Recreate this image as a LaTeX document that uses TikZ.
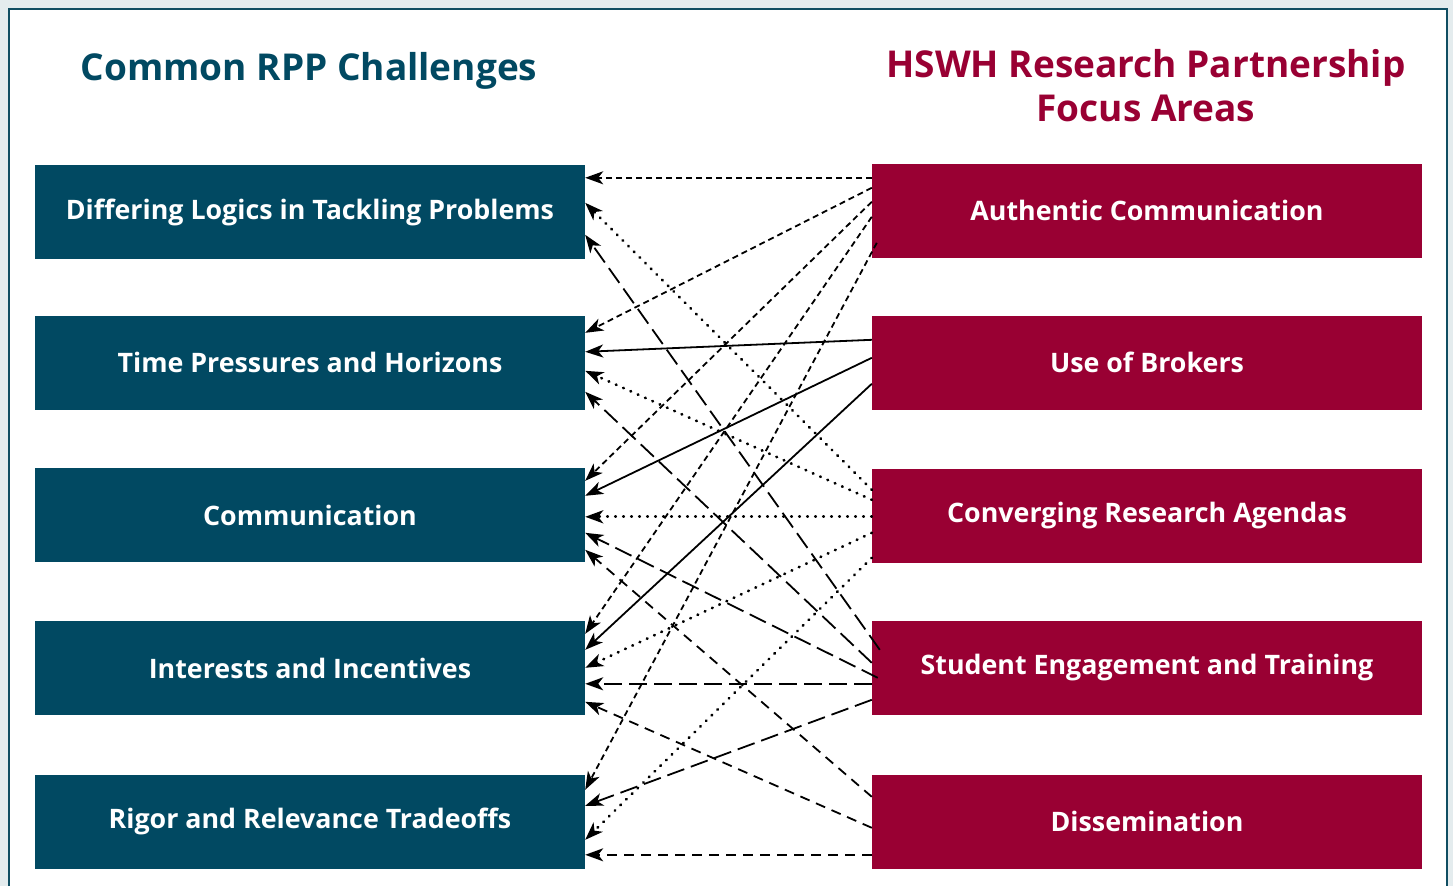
\documentclass[tikz,border=0pt]{standalone}
\usepackage{fontspec}
\setmainfont{Open Sans}
\usetikzlibrary{arrows.meta}
\definecolor{rppteal}{RGB}{1,73,98}
\definecolor{hswhred}{RGB}{153,0,51}
\definecolor{framebg}{RGB}{228,236,238}
\definecolor{frameline}{RGB}{16,78,98}

\begin{document}
\begin{tikzpicture}[x=1pt,y=-1pt,
	challenge/.style={fill=rppteal,text=white,font=\bfseries\fontsize{26.8}{30}\selectfont,minimum width=550pt,minimum height=94pt,inner sep=0pt},
	focus/.style={challenge,fill=hswhred},
	heading/.style={font=\bfseries\fontsize{37}{44}\selectfont,align=center},
	link/.style={line width=1.8pt,-{Stealth[length=18pt,width=13pt,inset=5pt]}},
	shortdash/.style={link,dash pattern=on 6pt off 4pt},
	middash/.style={link,dash pattern=on 10pt off 7pt},
	longdash/.style={link,dash pattern=on 18pt off 7pt},
	dotline/.style={link,line width=2.8pt,line cap=round,dash pattern=on 0.6pt off 7.4pt}]
	
	\useasboundingbox (0,0) rectangle (1453,886);
	\fill[framebg] (0,0) rectangle (1453,886);
	\fill[white] (9,9) rectangle (1447,886);
	\draw[frameline,line width=2pt] (9,886) -- (9,9) -- (1447,9) -- (1447,886);
	
	\node[heading,text=rppteal] (lefthead) at (309,71) {Common RPP Challenges};
	\node[heading,text=hswhred] (righthead) at (1146,86) {HSWH Research Partnership\\Focus Areas};
	
	\node[challenge] (logics) at (310,212) {Differing Logics in Tackling Problems};
	\node[challenge] (time)   at (310,362.5) {Time Pressures and Horizons};
	\node[challenge] (comm)   at (310,515)   {Communication};
	\node[challenge] (incent) at (310,668)   {Interests and Incentives};
	\node[challenge] (rigor)  at (310,821.5) {Rigor and Relevance Tradeoffs};
	
	\node[focus] (authentic) at (1147,210.5) {Authentic Communication};
	\node[focus] (brokers)   at (1147,362.5) {Use of Brokers};
	\node[focus] (converge)  at (1147,515.5) {Converging Research Agendas};
	\node[focus] (student)   at (1147,668)   {Student Engagement and Training};
	\node[focus] (dissem)    at (1147,821.5) {Dissemination};
	
	% authentic communication
	\draw[shortdash] ([yshift=-14.5pt]authentic.north west) -- ([yshift=-13pt]logics.north east);
	\draw[shortdash] ([yshift=-24.5pt]authentic.north west) -- ([yshift=-17.5pt]time.north east);
	\draw[shortdash] ([yshift=-38.5pt]authentic.north west) -- ([yshift=-13pt]comm.north east);
	\draw[shortdash] ([yshift=-53.5pt]authentic.north west) -- ([yshift=-13pt]incent.north east);
	\draw[shortdash] ([xshift=5pt,yshift=-79.5pt]authentic.north west) -- ([yshift=-15.5pt]rigor.north east);
	
	% use of brokers
	\draw[link] ([yshift=-24.5pt]brokers.north west) -- ([yshift=-36.5pt]time.north east);
	\draw[link] ([yshift=-42.5pt]brokers.north west) -- ([yshift=-28pt]comm.north east);
	\draw[link] ([yshift=-68.5pt]brokers.north west) -- ([yshift=-29pt]incent.north east);
	
	% converging research agendas
	\draw[dotline] ([yshift=-21.5pt]converge.north west) -- ([yshift=-38pt]logics.north east);
	\draw[dotline] ([yshift=-31.5pt]converge.north west) -- ([yshift=-55.5pt]time.north east);
	\draw[dotline] ([yshift=-48.5pt]converge.north west) -- ([yshift=-49pt]comm.north east);
	\draw[dotline] ([yshift=-64.5pt]converge.north west) -- ([yshift=-47pt]incent.north east);
	\draw[dotline] ([yshift=-89.5pt]converge.north west) -- ([yshift=-65.5pt]rigor.north east);
	
	% student engagement and training
	\draw[longdash] ([xshift=8pt,yshift=-29pt]student.north west) -- ([yshift=-70pt]logics.north east);
	\draw[longdash] ([yshift=-42pt]student.north west) -- ([yshift=-76.5pt]time.north east);
	\draw[longdash] ([xshift=6pt,yshift=-57pt]student.north west) -- ([yshift=-65pt]comm.north east);
	\draw[longdash] ([yshift=-63pt]student.north west) -- ([yshift=-63pt]incent.north east);
	\draw[longdash] ([yshift=-79pt]student.north west) -- ([yshift=-31.5pt]rigor.north east);
	
	% dissemination
	\draw[middash] ([yshift=-22.5pt]dissem.north west) -- ([yshift=-82pt]comm.north east);
	\draw[middash] ([yshift=-53.5pt]dissem.north west) -- ([yshift=-81pt]incent.north east);
	\draw[middash] ([yshift=-80.5pt]dissem.north west) -- ([yshift=-80.5pt]rigor.north east);
	
\end{tikzpicture}
\end{document}
